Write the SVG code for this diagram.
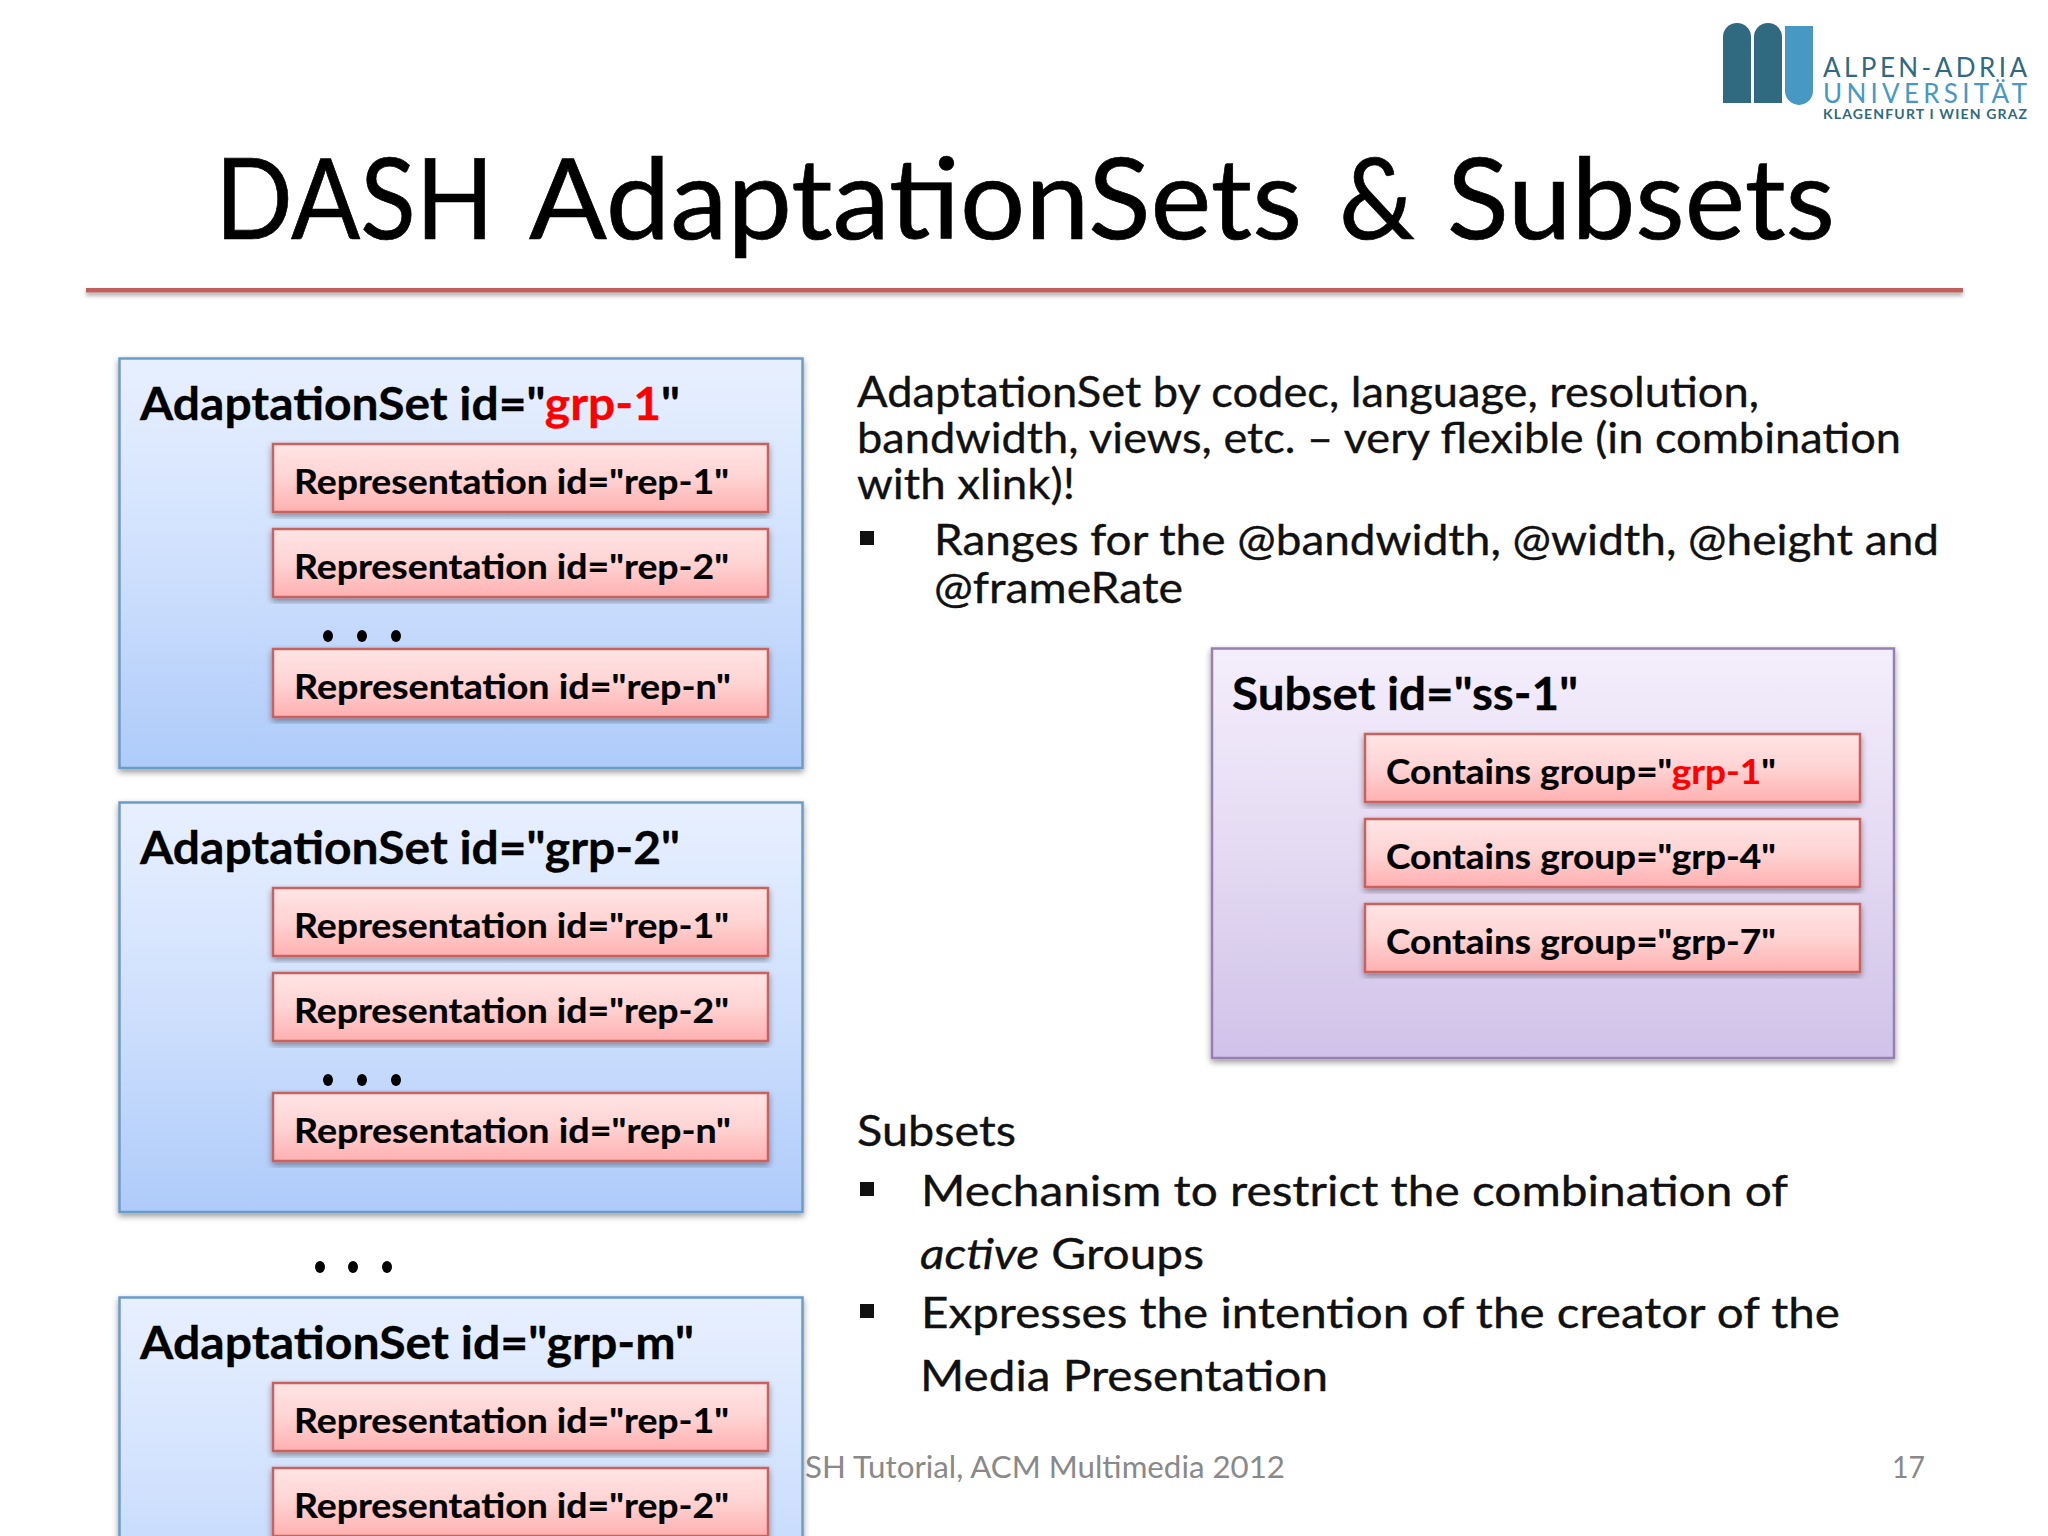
<svg xmlns="http://www.w3.org/2000/svg" width="2048" height="1536" viewBox="0 0 2048 1536">
<style>
text{font-family:"Lato","Open Sans",sans-serif;fill:#000}
.title{font-size:112px;stroke:#000;stroke-width:.7}
.body{font-size:42px;fill:#111;stroke:#111;stroke-width:.35}
.set{font-size:45px;font-weight:700;stroke:#000;stroke-width:.3}
.item{font-size:34px;font-weight:700;stroke:#000;stroke-width:.2}
.red{fill:#f00;stroke:#f00}
.foot{font-size:30px;fill:#898989}
.dark{fill:#2f6a80}
.light{fill:#4799c3}
.blue{fill:url(#gBlue);stroke:#6b9ccb;stroke-width:2.5;filter:url(#sh)}
.purple{fill:url(#gPurple);stroke:#9580b5;stroke-width:2.5;filter:url(#sh)}
.pink{fill:url(#gPink);stroke:#c9625f;stroke-width:2.5;filter:url(#sh)}
</style>
<defs>
<linearGradient id="gBlue" x1="0" y1="0" x2="0" y2="1"><stop offset="0" stop-color="#e8f0ff"/><stop offset="0.5" stop-color="#cfe0fd"/><stop offset="1" stop-color="#aecbfa"/></linearGradient>
<linearGradient id="gPurple" x1="0" y1="0" x2="0" y2="1"><stop offset="0" stop-color="#f4eefc"/><stop offset="0.5" stop-color="#e4daf2"/><stop offset="1" stop-color="#d0c2e9"/></linearGradient>
<linearGradient id="gPink" x1="0" y1="0" x2="0" y2="1"><stop offset="0" stop-color="#ffe4e4"/><stop offset="0.5" stop-color="#ffd3d3"/><stop offset="1" stop-color="#ffb0b0"/></linearGradient>
<filter id="sh" x="-5%" y="-5%" width="110%" height="115%"><feDropShadow dx="0" dy="3" stdDeviation="3" flood-color="#000" flood-opacity="0.4"/></filter>
<filter id="shRule" filterUnits="userSpaceOnUse" x="70" y="278" width="1910" height="26"><feDropShadow dx="0" dy="3" stdDeviation="2" flood-color="#000" flood-opacity="0.35"/></filter>
</defs>
<rect width="2048" height="1536" fill="#fff"/>

<g id="logo">
<path class="dark" d="M1723 103V37a14 14 0 0 1 28 0V103Z"/>
<path class="dark" d="M1754 103V37a14 14 0 0 1 28 0V103Z"/>
<path class="light" d="M1785 26H1813V91a14 14 0 0 1-28 0Z"/>
<text x="1823" y="77" font-size="26" textLength="204" lengthAdjust="spacing" style="fill:#2f6a80">ALPEN-ADRIA</text>
<text x="1823" y="103" font-size="26" textLength="204" lengthAdjust="spacing" style="fill:#4799c3">UNIVERSITÄT</text>
<text x="1823" y="119" font-size="14" font-weight="700" textLength="204" lengthAdjust="spacing" style="fill:#2f6a80">KLAGENFURT I WIEN GRAZ</text>
</g>

<g id="title">
<text class="title" y="239"><tspan x="215" textLength="279" lengthAdjust="spacingAndGlyphs">DASH</tspan> <tspan x="529" textLength="773" lengthAdjust="spacingAndGlyphs">AdaptationSets</tspan> <tspan x="1339" textLength="76" lengthAdjust="spacingAndGlyphs">&amp;</tspan> <tspan x="1447" textLength="388" lengthAdjust="spacingAndGlyphs">Subsets</tspan></text>
<rect x="86" y="288" width="1877" height="4.5" fill="#c0605c" filter="url(#shRule)"/>
</g>

<g id="footer">
<text class="foot" x="805" y="1478" textLength="480" lengthAdjust="spacingAndGlyphs">SH Tutorial, ACM Multimedia 2012</text>
<text class="foot" x="1892" y="1478" textLength="33" lengthAdjust="spacingAndGlyphs">17</text>
</g>

<g id="adaptation-set-1">
<rect class="blue" x="119.5" y="358.5" width="683" height="409.5"/>
<text class="set" x="140" y="420" textLength="540" lengthAdjust="spacingAndGlyphs">AdaptationSet id="<tspan class="red">grp-1</tspan>"</text>
<g id="s1-rep-1"><rect class="pink" x="273" y="444" width="495" height="68"/><text class="item" x="294" y="494" textLength="435" lengthAdjust="spacingAndGlyphs">Representation id="rep-1"</text></g>
<g id="s1-rep-2"><rect class="pink" x="273" y="529" width="495" height="68"/><text class="item" x="294" y="579" textLength="435" lengthAdjust="spacingAndGlyphs">Representation id="rep-2"</text></g>
<g id="s1-dots"><ellipse cx="328" cy="636" rx="5" ry="6"/><ellipse cx="362" cy="636" rx="5" ry="6"/><ellipse cx="396" cy="636" rx="5" ry="6"/></g>
<g id="s1-rep-n"><rect class="pink" x="273" y="649" width="495" height="68"/><text class="item" x="294" y="699" textLength="437" lengthAdjust="spacingAndGlyphs">Representation id="rep-n"</text></g>
</g>

<g id="adaptation-set-2">
<rect class="blue" x="119.5" y="802.5" width="683" height="409.5"/>
<text class="set" x="140" y="864" textLength="540" lengthAdjust="spacingAndGlyphs">AdaptationSet id="grp-2"</text>
<g id="s2-rep-1"><rect class="pink" x="273" y="888" width="495" height="68"/><text class="item" x="294" y="938" textLength="435" lengthAdjust="spacingAndGlyphs">Representation id="rep-1"</text></g>
<g id="s2-rep-2"><rect class="pink" x="273" y="973" width="495" height="68"/><text class="item" x="294" y="1023" textLength="435" lengthAdjust="spacingAndGlyphs">Representation id="rep-2"</text></g>
<g id="s2-dots"><ellipse cx="328" cy="1080" rx="5" ry="6"/><ellipse cx="362" cy="1080" rx="5" ry="6"/><ellipse cx="396" cy="1080" rx="5" ry="6"/></g>
<g id="s2-rep-n"><rect class="pink" x="273" y="1093" width="495" height="68"/><text class="item" x="294" y="1143" textLength="437" lengthAdjust="spacingAndGlyphs">Representation id="rep-n"</text></g>
</g>

<g id="set-dots"><ellipse cx="320" cy="1267" rx="5" ry="6"/><ellipse cx="353" cy="1267" rx="5" ry="6"/><ellipse cx="387" cy="1267" rx="5" ry="6"/></g>

<g id="adaptation-set-m">
<rect class="blue" x="119.5" y="1297.5" width="683" height="410"/>
<text class="set" x="140" y="1359" textLength="554" lengthAdjust="spacingAndGlyphs">AdaptationSet id="grp-m"</text>
<g id="sm-rep-1"><rect class="pink" x="273" y="1383" width="495" height="68"/><text class="item" x="294" y="1433" textLength="435" lengthAdjust="spacingAndGlyphs">Representation id="rep-1"</text></g>
<g id="sm-rep-2"><rect class="pink" x="273" y="1468" width="495" height="68"/><text class="item" x="294" y="1518" textLength="435" lengthAdjust="spacingAndGlyphs">Representation id="rep-2"</text></g>
</g>

<g id="subset">
<rect class="purple" x="1212" y="648.5" width="682" height="409.5"/>
<text class="set" x="1232" y="710" textLength="346" lengthAdjust="spacingAndGlyphs">Subset id="ss-1"</text>
<g id="ss-grp-1"><rect class="pink" x="1365" y="734" width="495" height="68"/><text class="item" x="1386" y="784" textLength="390" lengthAdjust="spacingAndGlyphs">Contains group="<tspan class="red">grp-1</tspan>"</text></g>
<g id="ss-grp-4"><rect class="pink" x="1365" y="819" width="495" height="68"/><text class="item" x="1386" y="869" textLength="390" lengthAdjust="spacingAndGlyphs">Contains group="grp-4"</text></g>
<g id="ss-grp-7"><rect class="pink" x="1365" y="904" width="495" height="68"/><text class="item" x="1386" y="954" textLength="390" lengthAdjust="spacingAndGlyphs">Contains group="grp-7"</text></g>
</g>

<g id="text-top">
<text class="body" x="857" y="407" textLength="902" lengthAdjust="spacingAndGlyphs">AdaptationSet by codec, language, resolution,</text>
<text class="body" x="857" y="453" textLength="1044" lengthAdjust="spacingAndGlyphs">bandwidth, views, etc. – very flexible (in combination</text>
<text class="body" x="857" y="499" textLength="218" lengthAdjust="spacingAndGlyphs">with xlink)!</text>
<rect x="860" y="531" width="14" height="14" fill="#111"/>
<text class="body" x="934" y="555" textLength="1005" lengthAdjust="spacingAndGlyphs">Ranges for the @bandwidth, @width, @height and</text>
<text class="body" x="934" y="603" textLength="249" lengthAdjust="spacingAndGlyphs">@frameRate</text>
</g>

<g id="text-bottom">
<text class="body" x="857" y="1146" textLength="159" lengthAdjust="spacingAndGlyphs">Subsets</text>
<rect x="860" y="1182" width="14" height="14" fill="#111"/>
<text class="body" x="921" y="1206" textLength="867" lengthAdjust="spacingAndGlyphs">Mechanism to restrict the combination of</text>
<text class="body" x="920" y="1269" textLength="284" lengthAdjust="spacingAndGlyphs"><tspan font-style="italic">active</tspan> Groups</text>
<rect x="860" y="1304" width="14" height="14" fill="#111"/>
<text class="body" x="921" y="1328" textLength="919" lengthAdjust="spacingAndGlyphs">Expresses the intention of the creator of the</text>
<text class="body" x="920" y="1391" textLength="408" lengthAdjust="spacingAndGlyphs">Media Presentation</text>
</g>
</svg>
